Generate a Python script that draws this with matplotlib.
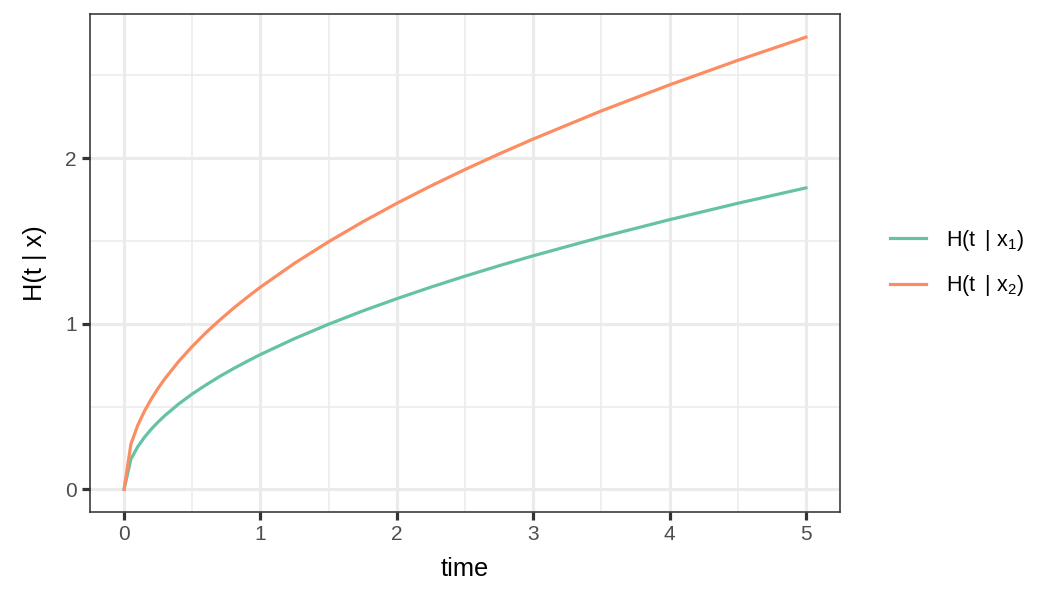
import matplotlib
matplotlib.use("Agg")
import matplotlib.pyplot as plt
from matplotlib.ticker import MultipleLocator

# values
time = [0, 0.05, 0.1, 0.15, 0.2, 0.25, 0.3, 0.4, 0.5, 0.6, 0.7, 0.8, 0.9, 1,
        1.25, 1.5, 1.75, 2, 2.25, 2.5, 2.75, 3, 3.5, 4, 4.5, 5]
h_x1 = [0, 0.182, 0.257, 0.315, 0.364, 0.407, 0.446, 0.515, 0.576, 0.630, 0.681, 0.728,
        0.772, 0.814, 0.910, 0.997, 1.077, 1.151, 1.221, 1.287, 1.350, 1.410, 1.523,
        1.628, 1.727, 1.820]
h_x2 = [0, 0.273, 0.386, 0.473, 0.546, 0.611, 0.669, 0.772, 0.863, 0.946, 1.021, 1.092,
        1.158, 1.221, 1.365, 1.495, 1.615, 1.727, 1.832, 1.931, 2.025, 2.115, 2.285,
        2.442, 2.590, 2.730]
labels = ["H(t\u2009 | x$_1$)", "H(t\u2009 | x$_2$)"]
colors = ["#66C2A5", "#FC8D62"]

plt.rcParams["font.family"] = ["Liberation Sans", "DejaVu Sans"]
plt.rcParams["mathtext.fontset"] = "custom"
plt.rcParams["mathtext.rm"] = "Liberation Sans"
plt.rcParams["mathtext.it"] = "Liberation Sans"

fig = plt.figure(figsize=(10.56, 5.95), dpi=100)
ax = fig.add_axes([90 / 1056, 1 - 512 / 595, 750 / 1056, 498 / 595])

for y, lab, c in zip([h_x1, h_x2], labels, colors):
    ax.plot(time, y, color=c, lw=2.3, label=lab, zorder=3)

ax.set_xlim(-0.25, 5.25)
ax.set_ylim(-0.137, 2.87)
ax.xaxis.set_major_locator(MultipleLocator(1))
ax.xaxis.set_minor_locator(MultipleLocator(0.5))
ax.yaxis.set_major_locator(MultipleLocator(1))
ax.yaxis.set_minor_locator(MultipleLocator(0.5))

ax.grid(which="major", color="#EBEBEB", lw=2.3, zorder=0)
ax.grid(which="minor", color="#EBEBEB", lw=1.15, zorder=0)
ax.set_axisbelow(True)
for s in ax.spines.values():
    s.set_color("#333333")
    s.set_linewidth(1.15)

ax.tick_params(which="major", length=5.5, width=2.3, color="#333333",
               labelsize=15, labelcolor="#4D4D4D", pad=4)
ax.tick_params(which="minor", length=0)

ax.set_xlabel("time", fontsize=18.3, labelpad=9)
ax.set_ylabel("H(t | x)", fontsize=18.3, labelpad=13)

fig.legend(loc="center left", bbox_to_anchor=(871 / 1056, 1 - 263 / 595),
           frameon=False, fontsize=15.5, handlelength=1.65, handletextpad=0.95,
           labelspacing=0.95)

fig.savefig("out.png", dpi=100)
